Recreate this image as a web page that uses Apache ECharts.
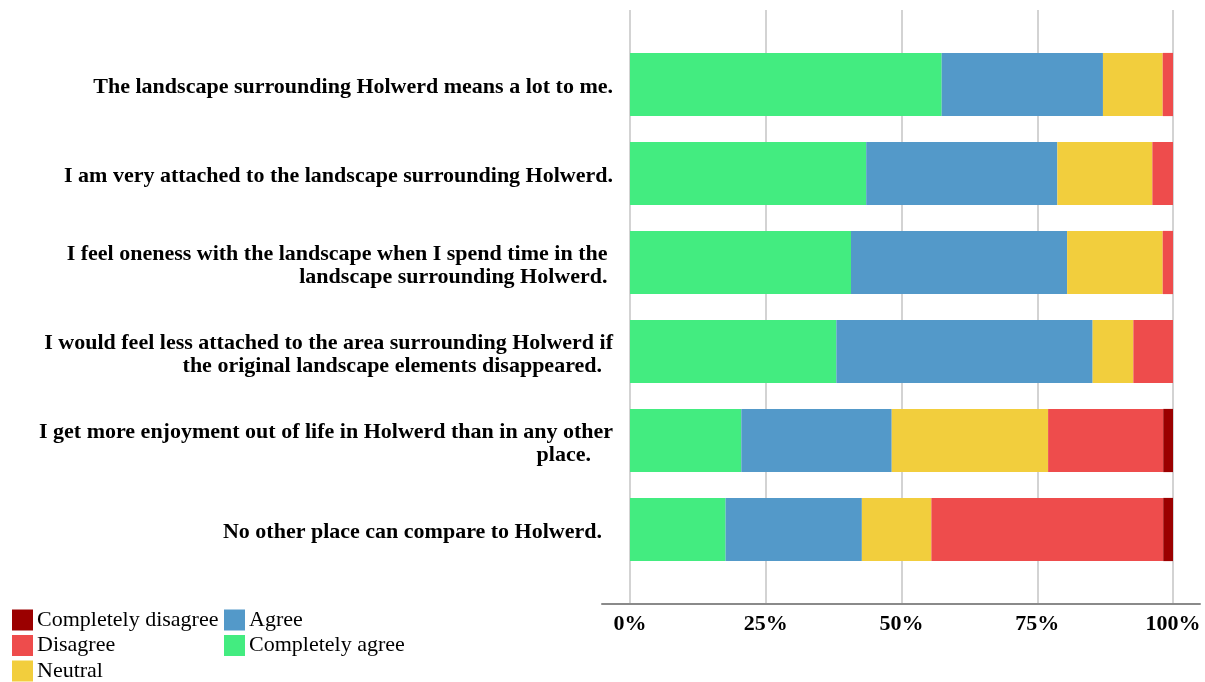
<!DOCTYPE html>
<html>
<head>
<meta charset="utf-8">
<style>
html,body{margin:0;padding:0;background:#fff;}
#chart{width:1205px;height:682px;}
</style>
<script src="https://cdn.jsdelivr.net/npm/echarts@6/dist/echarts.min.js"></script>
</head>
<body>
<div id="chart"></div>
<script>
const categories = [
  "The landscape surrounding Holwerd means a lot to me.",
  "I am very attached to the landscape surrounding Holwerd.",
  "I feel oneness with the landscape when I spend time in the \nlandscape surrounding Holwerd. ",
  "I would feel less attached to the area surrounding Holwerd if\nthe original landscape elements disappeared.  ",
  "I get more enjoyment out of life in Holwerd than in any other\nplace.    ",
  "No other place can compare to Holwerd.  "
];
const seriesNames = ["Completely agree", "Agree", "Neutral", "Disagree", "Completely disagree"];
const completelyAgree    = [57.4, 43.5, 40.7, 38.0, 20.5, 17.6];
const agree              = [29.7, 35.2, 39.8, 47.2, 27.7, 25.1];
const neutral            = [11.0, 17.5, 17.6, 7.5, 28.8, 12.8];
const disagree           = [1.9, 3.8, 1.9, 7.3, 21.2, 42.7];
const completelyDisagree = [0, 0, 0, 0, 1.8, 1.8];
const xTicks = [0, 25, 50, 75, 100];

const colors = {
  "Completely agree": "#43ec80",
  "Agree": "#5399c9",
  "Neutral": "#f2ce3d",
  "Disagree": "#ee4c4c",
  "Completely disagree": "#9b0000"
};
const values = [completelyAgree, agree, neutral, disagree, completelyDisagree];

const chart = echarts.init(document.getElementById('chart'), null, {renderer: 'canvas'});
const serif = "'Liberation Serif', 'Times New Roman', serif";

const series = seriesNames.map((name, i) => ({
  name: name,
  type: 'bar',
  stack: 'total',
  xAxisIndex: 0,
  yAxisIndex: 0,
  barWidth: '71%',
  itemStyle: {color: colors[name]},
  data: values[i]
}));

const legendBase = {
  orient: 'vertical', itemWidth: 21, itemHeight: 21, itemGap: 3.5, icon: 'rect', padding: 0,
  height: 80, itemStyle: {borderWidth: 0},
  textStyle: {fontFamily: serif, fontSize: 22, color: '#000', padding: [2, 0, 0, -1]}
};

chart.setOption({
  animation: false,
  backgroundColor: '#fff',
  grid: [
    {left: 630, right: 32, top: 40, bottom: 108},
    {left: 630, right: 32, top: 10, bottom: 78},
    {left: 602, right: 5, top: 10, bottom: 78},
    {left: 630, right: 32, top: 43, bottom: 105}
  ],
  xAxis: [
    {gridIndex: 0, type: 'value', min: 0, max: 100, show: false},
    {gridIndex: 1, type: 'value', min: xTicks[0], max: xTicks[xTicks.length - 1], interval: 25,
     axisLine: {show: false}, axisTick: {show: false},
     splitLine: {show: true, lineStyle: {color: '#c4c4c4', width: 1.5}},
     axisLabel: {formatter: '{value}%', fontFamily: serif, fontWeight: 'bold', fontSize: 22, color: '#000', margin: 9}},
    {gridIndex: 2, type: 'value', min: 0, max: 100,
     axisLine: {show: true, lineStyle: {color: '#8a8a8a', width: 2}},
     axisTick: {show: false}, axisLabel: {show: false}, splitLine: {show: false}},
    {gridIndex: 3, type: 'value', min: 0, max: 100, show: false}
  ],
  yAxis: [
    {gridIndex: 0, type: 'category', data: categories, inverse: true, show: false},
    {gridIndex: 1, type: 'category', data: categories, show: false},
    {gridIndex: 2, type: 'category', data: categories, show: false},
    {gridIndex: 3, type: 'category', data: categories, inverse: true,
     axisLine: {show: false}, axisTick: {show: false}, splitLine: {show: false},
     axisLabel: {fontFamily: serif, fontWeight: 'bold', fontSize: 22, color: '#000', margin: 17, lineHeight: 23,
                 align: 'right'}}
  ],
  legend: [
    Object.assign({}, legendBase, {left: 12, top: 609, data: ['Completely disagree', 'Disagree', 'Neutral']}),
    Object.assign({}, legendBase, {left: 224, top: 609, data: ['Agree', 'Completely agree']})
  ],
  series: series
});
</script>
</body>
</html>
